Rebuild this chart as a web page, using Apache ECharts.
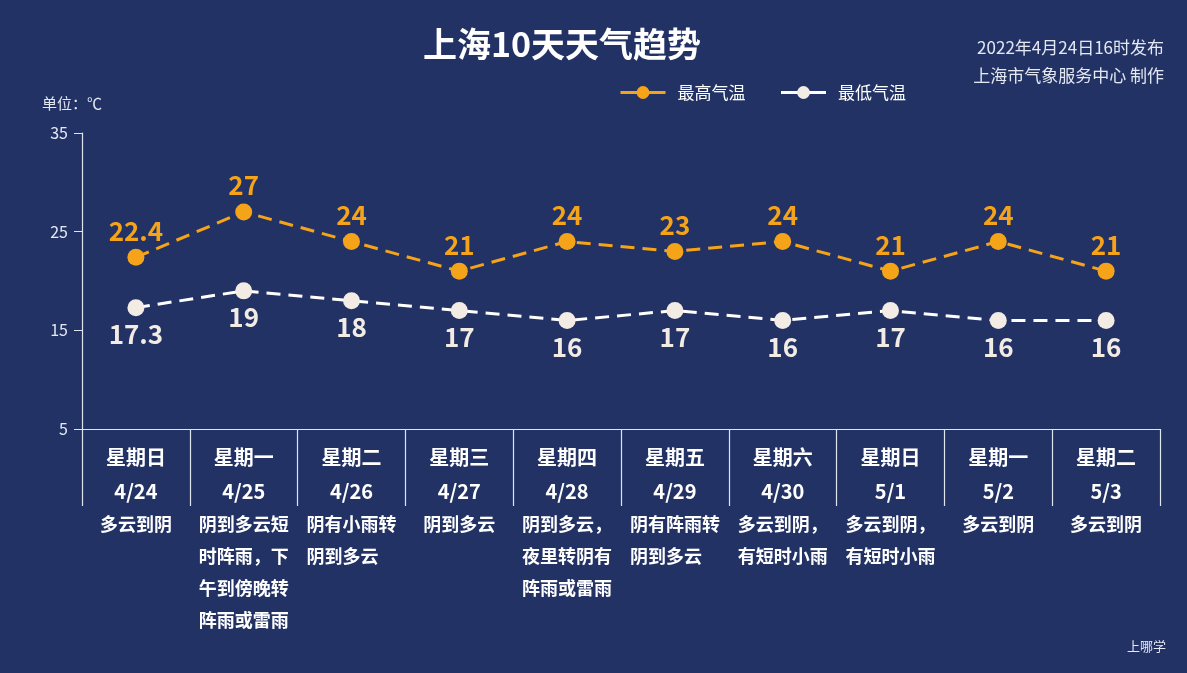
<!DOCTYPE html>
<html><head><meta charset="utf-8">
<script src="https://cdn.jsdelivr.net/npm/echarts@6/dist/echarts.min.js"></script>
<style>html,body{margin:0;padding:0;background:#233264}#c{width:1187px;height:673px}</style>
</head><body><div id="c"></div>
<script>
const weekdays = ['星期日','星期一','星期二','星期三','星期四','星期五','星期六','星期日','星期一','星期二'];
const dates = ['4/24','4/25','4/26','4/27','4/28','4/29','4/30','5/1','5/2','5/3'];
const descs = [
  ['多云到阴'],
  ['阴到多云短','时阵雨，下','午到傍晚转','阵雨或雷雨'],
  ['阴有小雨转','阴到多云'],
  ['阴到多云'],
  ['阴到多云，','夜里转阴有','阵雨或雷雨'],
  ['阴有阵雨转','阴到多云'],
  ['多云到阴，','有短时小雨'],
  ['多云到阴，','有短时小雨'],
  ['多云到阴'],
  ['多云到阴']
];
const highTemps = [22.4, 27, 24, 21, 24, 23, 24, 21, 24, 21];
const lowTemps = [17.3, 19, 18, 17, 16, 17, 16, 17, 16, 16];
const yMin = 5, yMax = 35, yInterval = 10;

const FONT = '"Noto Sans CJK SC","Noto Sans",sans-serif';
const ORANGE = '#f5a419';
const LOWC = '#f3ece4';

const chart = echarts.init(document.getElementById('c'));
chart.setOption({
  backgroundColor: '#233264',
  textStyle: { fontFamily: FONT },
  grid: { left: 82, right: 27, top: 133, bottom: 244, containLabel: false },
  legend: {
    top: 79, left: 614,
    itemWidth: 45, itemHeight: 16, itemGap: 34,
    lineStyle: { type: 'solid', width: 3 },
    textStyle: { color: '#ffffff', fontSize: 17, fontFamily: FONT, padding: [0, 0, 0, 7] },
    data: ['最高气温', '最低气温']
  },
  graphic: [
    { type: 'text', x: 562, y: 44, style: { text: '上海10天天气趋势', fill: '#ffffff', font: 'bold 34px ' + FONT, textAlign: 'center', textVerticalAlign: 'middle' } },
    { type: 'text', x: 1164, y: 48, style: { text: '2022年4月24日16时发布', fill: '#e4e8f2', font: '17px ' + FONT, textAlign: 'right', textVerticalAlign: 'middle' } },
    { type: 'text', x: 1164, y: 76, style: { text: '上海市气象服务中心 制作', fill: '#e4e8f2', font: '17px ' + FONT, textAlign: 'right', textVerticalAlign: 'middle' } },
    { type: 'text', x: 42, y: 103, style: { text: '单位：℃', fill: '#e4e8f2', font: '15px ' + FONT, textAlign: 'left', textVerticalAlign: 'middle' } },
    { type: 'text', x: 1166, y: 646, style: { text: '上哪学', fill: '#e4e8f2', font: '13px ' + FONT, textAlign: 'right', textVerticalAlign: 'middle' } }
  ],
  xAxis: {
    type: 'category',
    data: dates,
    boundaryGap: true,
    axisLine: { show: true, lineStyle: { color: '#dfe5ef', width: 1.2 } },
    axisTick: { show: true, interval: 0, length: 77, lineStyle: { color: '#dfe5ef', width: 1.2 } },
    axisLabel: {
      interval: 0, margin: 11,
      formatter: function (v, i) {
        let s = '{w|' + weekdays[i] + '}\n{w|' + dates[i] + '}';
        descs[i].forEach(function (l) { s += '\n{d|' + l + '}'; });
        return s;
      },
      rich: {
        w: { color: '#ffffff', fontSize: 20, fontWeight: 'bold', lineHeight: 34, align: 'center', fontFamily: FONT },
        d: { color: '#ffffff', fontSize: 18, fontWeight: 'bold', lineHeight: 32, align: 'left', fontFamily: FONT }
      }
    }
  },
  yAxis: {
    type: 'value', min: yMin, max: yMax, interval: yInterval,
    axisLine: { show: true, lineStyle: { color: '#dfe5ef', width: 1.2 } },
    axisTick: { show: true, length: 8, lineStyle: { color: '#dfe5ef' } },
    axisLabel: { color: '#e4e8f2', fontSize: 16, margin: 14 },
    splitLine: { show: false }
  },
  series: [
    {
      name: '最高气温', type: 'line', data: highTemps,
      symbol: 'circle', symbolSize: 17,
      itemStyle: { color: ORANGE },
      lineStyle: { color: ORANGE, width: 3, type: [14, 8] },
      label: { show: true, position: 'top', distance: 5, color: ORANGE, fontSize: 26, fontWeight: 'bold', fontFamily: FONT }
    },
    {
      name: '最低气温', type: 'line', data: lowTemps,
      symbol: 'circle', symbolSize: 17,
      itemStyle: { color: LOWC },
      lineStyle: { color: '#ffffff', width: 3, type: [14, 8] },
      label: { show: true, position: 'bottom', distance: 5, color: LOWC, fontSize: 26, fontWeight: 'bold', fontFamily: FONT }
    }
  ]
});
</script>
</body></html>
